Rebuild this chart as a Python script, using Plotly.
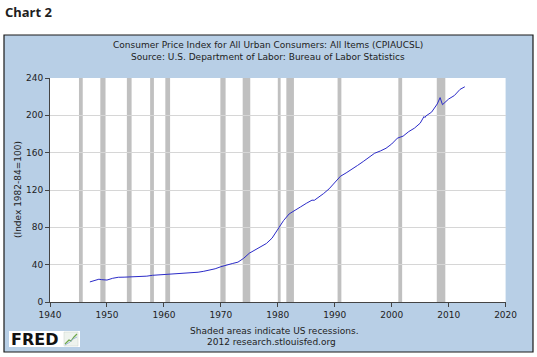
import plotly.graph_objects as go

# CPI (CPIAUCSL), index 1982-84=100
dates = ["1947-01-01","1948-01-01","1948-08-01","1949-01-01","1950-01-01","1951-01-01","1951-06-01",
         "1952-01-01","1953-01-01","1954-01-01","1955-01-01","1956-01-01","1957-01-01",
         "1958-01-01","1959-01-01","1960-01-01","1961-01-01","1962-01-01","1963-01-01",
         "1964-01-01","1965-01-01","1966-01-01","1967-01-01","1968-01-01","1969-01-01",
         "1970-01-01","1971-01-01","1972-01-01","1973-01-01","1974-01-01","1975-01-01",
         "1976-01-01","1977-01-01","1978-01-01","1979-01-01","1980-01-01","1981-01-01",
         "1982-01-01","1983-01-01","1984-01-01","1985-01-01","1986-01-01","1986-06-01",
         "1987-01-01","1988-01-01","1989-01-01","1990-01-01","1991-01-01","1992-01-01",
         "1993-01-01","1994-01-01","1995-01-01","1996-01-01","1997-01-01","1998-01-01",
         "1999-01-01","2000-01-01","2001-01-01","2002-01-01","2003-01-01","2004-01-01",
         "2005-01-01","2005-09-01","2005-11-01","2006-01-01","2007-01-01","2008-01-01",
         "2008-07-01","2008-12-01","2009-06-01","2010-01-01","2011-01-01","2012-01-01",
         "2012-11-01"]
cpi = [21.5, 23.7, 24.4, 24.0, 23.5, 25.4, 25.9,
       26.5, 26.6, 26.9, 26.8, 26.9, 27.7,
       28.6, 29.0, 29.4, 29.8, 30.0, 30.4,
       30.9, 31.3, 31.9, 32.9, 34.1, 35.6,
       37.8, 39.9, 41.2, 42.7, 46.8, 52.3,
       55.8, 58.7, 62.7, 68.5, 78.0, 87.2,
       94.4, 97.8, 101.9, 105.7, 109.1, 109.0,
       111.4, 116.0, 121.2, 127.5, 134.7, 138.3,
       142.8, 146.3, 150.5, 154.7, 159.4, 161.8,
       164.7, 169.3, 175.6, 177.7, 182.6, 186.3,
       191.6, 198.7, 197.6, 199.3, 203.4, 212.2,
       219.0, 211.4, 214.5, 217.5, 221.2, 227.8,
       230.6]

rec_start = ["1945-02-01","1948-11-01","1953-07-01","1957-08-01","1960-04-01","1969-12-01",
             "1973-11-01","1980-01-01","1981-07-01","1990-07-01","2001-03-01","2007-12-01"]
rec_end = ["1945-10-01","1949-10-01","1954-05-01","1958-04-01","1961-02-01","1970-11-01",
           "1975-03-01","1980-07-01","1982-11-01","1991-03-01","2001-11-01","2009-06-01"]

y_ticks = [0, 40, 80, 120, 160, 200, 240]
x_tick_years = [1940, 1950, 1960, 1970, 1980, 1990, 2000, 2010, 2020]

W, H = 537, 357
def px(x): return x / W
def py(y): return 1 - y / H

BLUE_BG = "#B8CFE6"
FONT = "DejaVu Sans"

fig = go.Figure()
fig.add_trace(go.Scatter(x=dates, y=cpi, mode="lines",
                         line=dict(color="#2B2BC8", width=1), hoverinfo="skip",
                         showlegend=False))

shapes = [
    dict(type="rect", xref="paper", yref="paper", x0=px(4), x1=px(533), y0=py(352), y1=py(35),
         fillcolor=BLUE_BG, line=dict(color="#1A1A1A", width=1.2), layer="below"),
    dict(type="rect", xref="paper", yref="paper", x0=px(50), x1=px(505.6), y0=py(302), y1=py(78),
         fillcolor="white", line=dict(width=0), layer="below"),
    # FRED logo box
    dict(type="rect", xref="paper", yref="paper", x0=px(9), x1=px(80), y0=py(347), y1=py(331),
         fillcolor="white", line=dict(width=0)),
    dict(type="rect", xref="paper", yref="paper", x0=px(64), x1=px(78), y0=py(346), y1=py(332),
         fillcolor="#EEF3EE", line=dict(color="#C8D2C8", width=0.5)),
    dict(type="path", xref="paper", yref="paper",
         path=f"M {px(65)} {py(344)} L {px(69)} {py(340)} L {px(71)} {py(341)} L {px(74)} {py(337)} L {px(77)} {py(334)}",
         line=dict(color="#6FA84A", width=1.2)),
    dict(type="path", xref="paper", yref="paper",
         path=f"M {px(65)} {py(345)} L {px(70)} {py(342)} L {px(73)} {py(339)} L {px(77)} {py(337)}",
         line=dict(color="#8AA6D0", width=0.8)),
]
for s, e in zip(rec_start, rec_end):
    shapes.append(dict(type="rect", xref="x", yref="paper", x0=s, x1=e, y0=py(302), y1=py(78),
                       fillcolor="#C0C0C0", line=dict(width=0), layer="below"))

annotations = [
    dict(text="<b>Chart 2</b>", xref="paper", yref="paper", x=px(3), y=py(12),
         xanchor="left", yanchor="middle", showarrow=False,
         font=dict(family="Noto Sans", size=13, color="#1F1F1F")),
    dict(text="Consumer Price Index for All Urban Consumers: All Items (CPIAUCSL)",
         xref="paper", yref="paper", x=px(268), y=py(45), xanchor="center", yanchor="middle",
         showarrow=False, font=dict(family=FONT, size=9, color="#222222")),
    dict(text="Source: U.S. Department of Labor: Bureau of Labor Statistics",
         xref="paper", yref="paper", x=px(268), y=py(57), xanchor="center", yanchor="middle",
         showarrow=False, font=dict(family=FONT, size=9, color="#222222")),
    dict(text="Shaded areas indicate US recessions.",
         xref="paper", yref="paper", x=px(274), y=py(331), xanchor="center", yanchor="middle",
         showarrow=False, font=dict(family=FONT, size=9, color="#222222")),
    dict(text="2012 research.stlouisfed.org",
         xref="paper", yref="paper", x=px(271), y=py(342), xanchor="center", yanchor="middle",
         showarrow=False, font=dict(family=FONT, size=9, color="#222222")),
    dict(text="(Index 1982-84=100)", xref="paper", yref="paper", x=px(18), y=py(190),
         xanchor="center", yanchor="middle", textangle=-90, showarrow=False,
         font=dict(family=FONT, size=9, color="#222222")),
    dict(text="<b>FRED</b>", xref="paper", yref="paper", x=px(9), y=py(339),
         xanchor="left", yanchor="middle", showarrow=False,
         font=dict(family="DejaVu Sans", size=16, color="#111111")),
]

fig.update_layout(
    width=W, height=H,
    margin=dict(l=0, r=0, t=0, b=0),
    paper_bgcolor="white",
    plot_bgcolor="rgba(0,0,0,0)",
    shapes=shapes,
    annotations=annotations,
    showlegend=False,
    xaxis=dict(
        domain=[px(50), px(505.6)],
        type="date",
        range=["1940-01-01", "2020-01-01"],
        tickvals=[f"{y}-01-01" for y in x_tick_years],
        ticktext=[str(y) for y in x_tick_years],
        showgrid=False, zeroline=False,
        showline=True, linecolor="#444444", linewidth=1,
        ticks="outside", ticklen=4, tickcolor="#444444",
        tickfont=dict(family=FONT, size=9, color="#222222"),
        automargin=False,
    ),
    yaxis=dict(
        domain=[py(302), py(78)],
        range=[0, 240],
        tickvals=y_ticks,
        showgrid=True, gridcolor="#D6D6D6", gridwidth=1,
        zeroline=False,
        showline=True, linecolor="#444444", linewidth=1,
        ticks="outside", ticklen=4, tickcolor="#444444",
        tickfont=dict(family=FONT, size=9, color="#222222"),
        automargin=False,
    ),
)

fig.write_html("out.html", config={"displayModeBar": False},
               post_script="document.body.style.margin='0';document.body.style.overflow='hidden';")
